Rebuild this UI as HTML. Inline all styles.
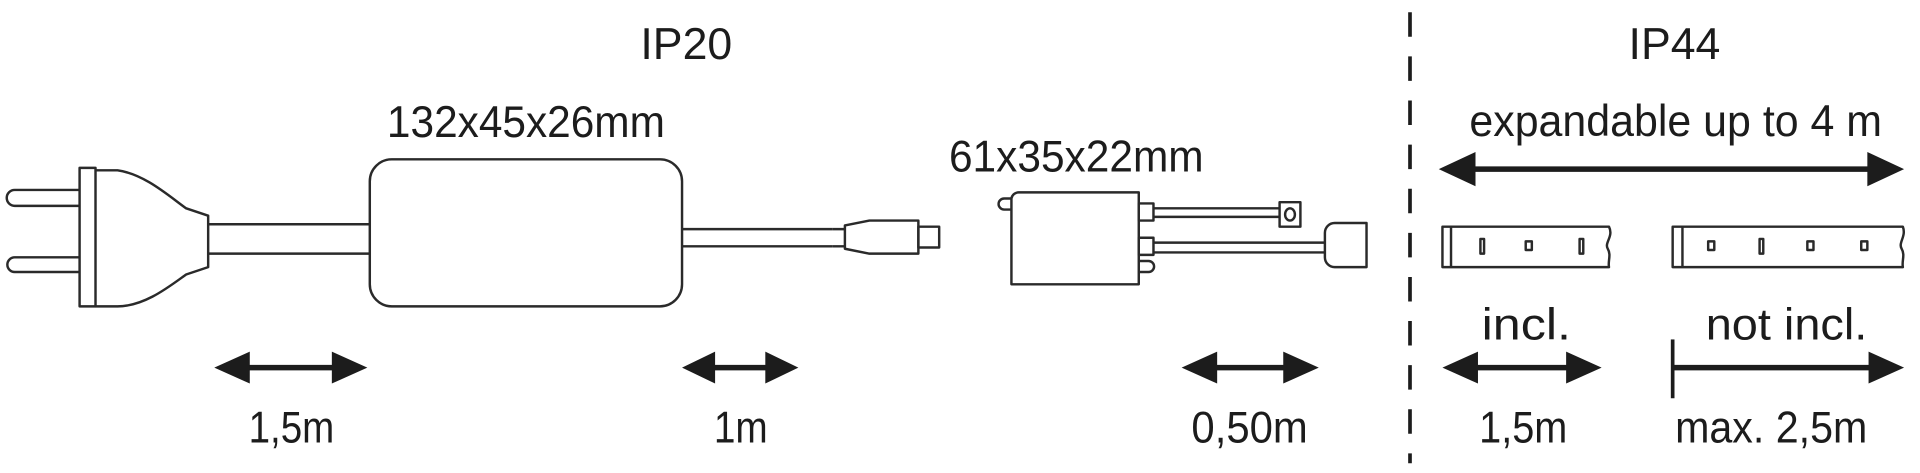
<!DOCTYPE html>
<html><head><meta charset="utf-8"><style>
html,body{margin:0;padding:0;background:#fff;}
svg{display:block;}
text{font-family:"Liberation Sans","DejaVu Sans",sans-serif;font-size:36px;fill:#1c1c1c;}
</style></head><body>
<svg width="1920" height="473" viewBox="0 0 1568 386" preserveAspectRatio="none" xmlns="http://www.w3.org/2000/svg">
<g fill="none" stroke="#2a2a2a" stroke-width="2" stroke-linejoin="round">
<path d="M65 155 H12 a6.5 6.5 0 0 0 0 13 H65"/>
<path d="M65 210 H12 a6 6 0 0 0 0 12 H65"/>
<rect x="65" y="137" width="13" height="113"/>
<path d="M78 139 H96 C118 142 138 160 152 170 L170 176 V218 L152 224 C138 234 118 250 96 250 H78"/>
<path d="M170 183 H302 M170 207 H302"/>
<rect x="302" y="130" width="255" height="120" rx="18"/>
<path d="M557 187 H680 M557 201 H680"/>
<path d="M690 184 L710 180 H750 V207 H710 L690 203 Z"/>
<path d="M680 187 H690 M680 201 H690"/>
<rect x="750" y="185" width="17" height="17"/>
<path d="M826 232 V162 a6 6 0 0 1 6 -5 H930 V232 Z"/>
<path d="M826 162 H820 a4 4 0 0 0 0 9 H826"/>
<rect x="930" y="166" width="12" height="14"/>
<rect x="930" y="194" width="12" height="14"/>
<path d="M930 213 H938 a4 4 0 0 1 0 9 H930"/>
<path d="M942 170 H1045 M942 177 H1045"/>
<rect x="1045" y="165" width="17" height="20"/>
<ellipse cx="1053.5" cy="175" rx="4" ry="5"/>
<path d="M942 198 H1082 M942 206 H1082"/>
<path d="M1116 182 V218 H1090 a8 8 0 0 1 -8 -8 V190 a8 8 0 0 1 8 -8 Z"/>
<path d="M1178 185 H1314 C1318 193 1310 198 1313 203 C1316 208 1313 213 1314 218 H1178 Z"/>
<path d="M1185 185 V218"/>
<rect x="1209" y="195" width="3" height="12"/>
<rect x="1246" y="197" width="5" height="7"/>
<rect x="1290" y="195" width="3" height="12"/>
<path d="M1366 185 H1554 C1557 193 1550 198 1553 203 C1556 208 1553 213 1554 218 H1366 Z"/>
<path d="M1374 185 V218"/>
<rect x="1395" y="197" width="5" height="7"/>
<rect x="1437" y="195" width="3" height="12"/>
<rect x="1476" y="197" width="5" height="7"/>
<rect x="1520" y="197" width="5" height="7"/>
</g>
<line x1="1151.5" y1="10" x2="1151.5" y2="378" stroke="#1c1c1c" stroke-width="3" stroke-dasharray="20 16"/>
<g fill="#1c1c1c" stroke="#1c1c1c">
<line x1="1200" y1="138" x2="1530" y2="138" stroke-width="4.5"/>
<path d="M1175 138 L1205 124 L1205 152 Z" stroke="none"/>
<path d="M1555 138 L1525 124 L1525 152 Z" stroke="none"/>
<line x1="195" y1="300" x2="280" y2="300" stroke-width="4.5"/>
<path d="M175 300 L204 287 L204 313 Z" stroke="none"/>
<path d="M300 300 L271 287 L271 313 Z" stroke="none"/>
<line x1="575" y1="300" x2="635" y2="300" stroke-width="4.5"/>
<path d="M557 300 L584 287 L584 313 Z" stroke="none"/>
<path d="M652 300 L625 287 L625 313 Z" stroke="none"/>
<line x1="985" y1="300" x2="1057" y2="300" stroke-width="4.5"/>
<path d="M965 300 L994 287 L994 313 Z" stroke="none"/>
<path d="M1077 300 L1048 287 L1048 313 Z" stroke="none"/>
<line x1="1198" y1="300" x2="1288" y2="300" stroke-width="4.5"/>
<path d="M1178 300 L1207 287 L1207 313 Z" stroke="none"/>
<path d="M1308 300 L1279 287 L1279 313 Z" stroke="none"/>
<line x1="1366" y1="277" x2="1366" y2="325" stroke-width="3"/>
<line x1="1366" y1="300" x2="1535" y2="300" stroke-width="4.5"/>
<path d="M1555 300 L1526 287 L1526 313 Z" stroke="none"/>
</g>
<text x="523" y="48" textLength="75" lengthAdjust="spacingAndGlyphs">IP20</text>
<text x="316" y="112" textLength="227" lengthAdjust="spacingAndGlyphs">132x45x26mm</text>
<text x="775" y="140" textLength="208" lengthAdjust="spacingAndGlyphs">61x35x22mm</text>
<text x="1330" y="48" textLength="75" lengthAdjust="spacingAndGlyphs">IP44</text>
<text x="1200" y="111" textLength="337" lengthAdjust="spacingAndGlyphs">expandable up to 4 m</text>
<text x="1210" y="277" textLength="73" lengthAdjust="spacingAndGlyphs">incl.</text>
<text x="1393" y="277" textLength="132" lengthAdjust="spacingAndGlyphs">not incl.</text>
<text x="203" y="361" textLength="70" lengthAdjust="spacingAndGlyphs">1,5m</text>
<text x="583" y="361" textLength="44" lengthAdjust="spacingAndGlyphs">1m</text>
<text x="973" y="361" textLength="95" lengthAdjust="spacingAndGlyphs">0,50m</text>
<text x="1208" y="361" textLength="72" lengthAdjust="spacingAndGlyphs">1,5m</text>
<text x="1368" y="361" textLength="157" lengthAdjust="spacingAndGlyphs">max. 2,5m</text>
</svg>
</body></html>
